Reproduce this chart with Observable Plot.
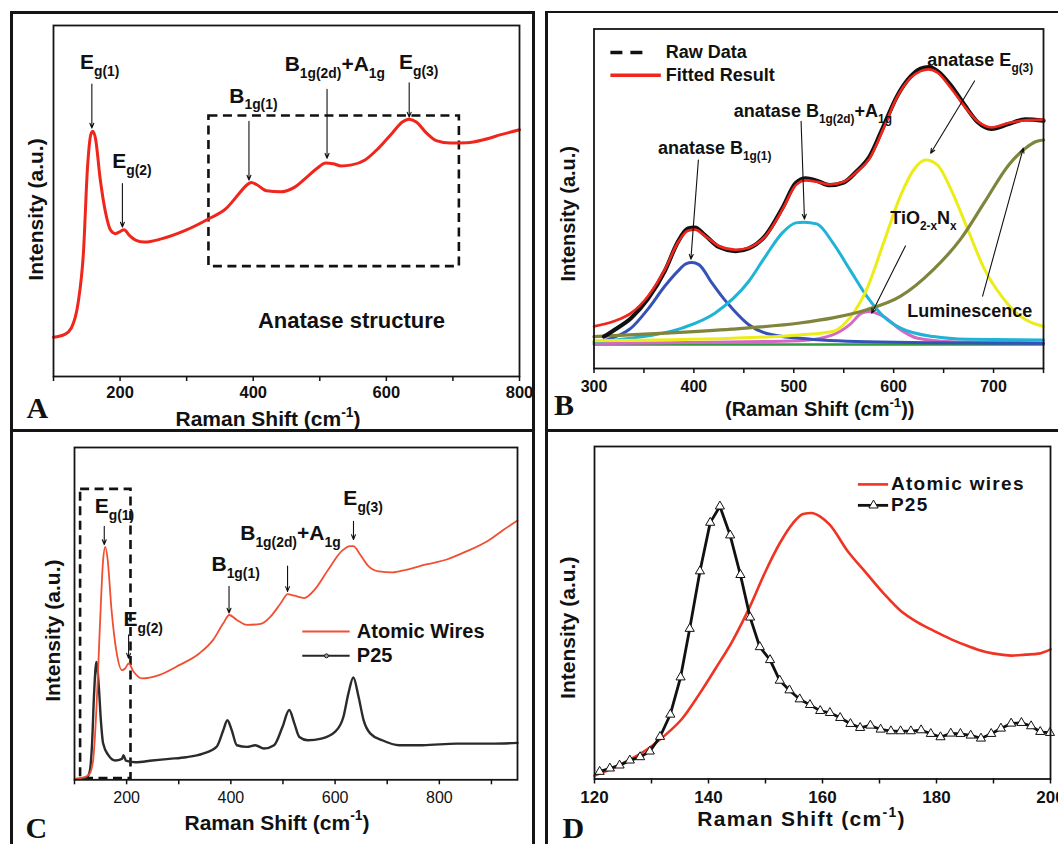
<!DOCTYPE html>
<html><head><meta charset="utf-8">
<script src="https://cdn.jsdelivr.net/npm/d3@7"></script>
<script src="https://cdn.jsdelivr.net/npm/@observablehq/plot@0.6"></script>
<style>
body{margin:0;background:#fff;}
#fig{position:relative;width:1058px;height:844px;overflow:hidden;background:#fff;}
.ln{position:absolute;background:#151515;z-index:5;}
.panel{position:absolute;}
.panel svg{overflow:visible;}
</style></head><body><div id="fig"></div>
<script>
// ---------- Panel A : Raman spectrum of atomic wires ----------
const aX = [100,117,127,137,145,151,156,159,163,170,178,186,193,200,206,214,224,237,262,298,334,359,377,390,397,405,420,441,461,481,497,509,520,532,548,568,588,609,624,634,645,660,675,696,721,747,772,800];
const aY = [11.2,12.0,13.9,21.0,35.4,59.3,68.9,69.9,67.9,56.5,46.9,41.6,40.7,41.3,41.8,40.2,38.8,38.3,39.2,41.6,45.0,47.8,51.7,54.5,55.3,54.7,52.9,52.6,53.8,56.9,59.5,60.8,60.6,60.0,60.3,61.7,65.0,69.4,72.5,73.3,72.5,69.4,67.2,66.5,66.6,67.5,68.9,70.3];
const aMajor = [200,400,600,800];
const aMinor = [100,300,500,700];
const aLabels = [
  {x:139.8, y:87.6, t:"E_{g(1)}"},
  {x:188.2, y:59.3, t:"E_{g(2)}"},
  {x:364,   y:78.0, t:"B_{1g(1)}"},
  {x:447.2, y:87.1, t:"B_{1g(2d)}+A_{1g}"},
  {x:619,   y:87.6, t:"E_{g(3)}"}
];
const aArrows = [
  {x1:157.6,y1:83.3,x2:157.6,y2:70.8},
  {x1:203.5,y1:55.0,x2:203.5,y2:42.6},
  {x1:393.6,y1:72.7,x2:393.6,y2:56.0},
  {x1:510.9,y1:81.8,x2:510.9,y2:62.2},
  {x1:634.3,y1:83.7,x2:634.3,y2:73.9}
];
const aBox = [{x1:333.5,x2:709.7,y1:31.3,y2:74.2}];
const aNote = [{x:547.6,y:13.9,t:"Anatase structure"}];

// ---------- Panel B : peak fitting ----------
const bFitX = [300,320,337,354,371,384,394,401,411,425,442,455,472,489,502,512,523,536,550,563,576,590,603,617,627,635,644,657,671,684,698,715,732,750];
const bFitY = [12.4,13.9,16.3,21.3,29.2,37.1,40.6,40.9,39.1,36.1,35.0,35.6,39.1,47.0,54.0,55.4,55.0,54.2,55.0,57.9,61.9,70.8,79.7,85.6,87.6,88.1,87.1,82.7,77.2,72.8,71.0,72.3,73.1,73.3];
const bRawX = [310,320,337,354,371,384,394,401,411,425,442,455,472,489,502,512,523,536,550,563,576,590,603,617,627,635,644,657,671,684,698,715,732,750];
const bRawY = [9.4,11.3,14.8,20.5,28.8,37.3,41.2,41.5,39.3,35.8,34.6,35.4,39.3,47.5,54.6,56.0,55.3,54.0,54.8,58.1,62.5,71.5,80.0,86.0,88.3,88.8,87.6,83.5,77.6,72.6,70.6,72.0,73.4,73.0];
const bBlueX = [310,325,337,354,371,384,392,398,405,418,430,438,455,472,506,573,750];
const bBlueY = [8.2,9.8,11.9,17.5,24.3,28.7,30.8,31.2,30.6,25.2,20.5,17.8,12.9,10.4,8.9,7.9,7.4];
const bCyanX = [300,337,388,421,455,472,489,502,510,523,539,556,573,590,607,640,674,750];
const bCyanY = [7.9,8.9,11.9,16.3,25.7,33.2,40.1,42.9,43.1,42.6,37.1,29.2,21.3,15.3,11.9,9.4,8.6,8.4];
const bYellowX = [300,438,506,539,556,573,590,607,621,632,644,657,674,691,708,725,750];
const bYellowY = [8.2,8.9,9.9,10.9,14.9,23.3,37.1,51.0,58.9,61.4,59.9,53.0,41.1,29.2,21.3,15.8,12.4];
const bPinkX = [300,506,539,556,568,575,590,607,624,657,750];
const bPinkY = [7.4,8.2,9.9,12.9,16.3,16.8,15.3,11.4,8.9,7.9,7.6];
const bOliveX = [300,371,438,506,539,573,607,640,667,691,715,732,742,750];
const bOliveY = [9.4,10.4,11.6,13.4,14.9,17.3,21.3,29.2,38.1,49.0,59.9,64.9,66.8,67.3];
const bGreenX = [300,750];
const bGreenY = [7.1,7.1];
const bMajor = [300,400,500,600,700];
const bMinor = [350,450,550,650,750];
const bLabels = [
  {x:364,   y:63.1, t:"anatase B_{1g(1)}"},
  {x:440,   y:74.0, t:"anatase B_{1g(2d)}+A_{1g}"},
  {x:633.7, y:89.1, t:"anatase E_{g(3)}"},
  {x:596.6, y:42.6, t:"TiO_{2-x}N_{x}"},
  {x:613.5, y:15.3, t:"Luminescence"}
];
const bArrows = [
  {x1:404.5,y1:61.4,x2:397.0,y2:32.2},
  {x1:507.3,y1:72.8,x2:510.7,y2:44.0},
  {x1:681.0,y1:84.7,x2:637.0,y2:63.4},
  {x1:611.8,y1:36.1,x2:578.0,y2:16.3},
  {x1:689.0,y1:21.3,x2:729.8,y2:64.9}
];
const bLegend = [
  {x1:316.9,x2:355.6,y:93.1,tx:371.8,t:"Raw Data"},
  {x1:316.9,x2:367.4,y:86.4,tx:371.8,t:"Fitted Result"}
];

// ---------- Panel C : atomic wires vs P25 ----------
const cWireX = [101,119.5,129,135.7,142,148.7,155,159,163.6,171,181,191,197,204,213.5,229.8,262,301,340,366,385.5,397,411.5,431,457,476,496,509,522,541,560.7,586.7,612.6,629,635,648,664.5,684,710,736,775,814,853,892,924,950];
const cWireY = [0.3,0.8,1.8,5.8,21,46.1,66.3,70.1,66.3,51.2,38.1,33,33.5,35,32.5,30.5,31.5,34.5,38.1,42.1,47.1,49.6,48.1,46.6,46.9,49.1,53.2,55.9,55.4,54.7,57.2,63.2,68.8,70.3,70.3,67.8,64.2,62.7,62.4,63.2,64.8,66.3,68.8,71.8,75.3,78];
const cP25X = [101,122.7,129,133.7,137.6,142,146.7,150.6,155,165,178,191,194,198.6,216.8,249,281.7,314,346.6,372.5,385.5,393.3,401.7,411.5,431,447,463.4,482.9,499,512,522,531.5,547.7,573.7,599.7,615.9,625.6,635,645,654.8,667.8,690.5,723,768,833,898,950];
const cP25Y = [0.2,0.6,2.3,10.9,26,35.5,28,17.9,10.9,7.4,5.8,6.3,7.4,5.8,5.3,5.8,6.3,6.8,7.9,9.9,14.9,17.9,14.9,10.4,9.9,10.4,9.4,10.4,15.9,21,16.9,12.9,11.9,12.4,14.4,18.9,26,30.8,25,17.9,13.9,11.9,10.4,10.4,10.9,10.9,11.1];
const cMajor = [200,400,600,800];
const cMinor = [100,300,500,700,900];
const cLabels = [
  {x:138.9, y:80.2, t:"E_{g(1)}"},
  {x:194.1, y:46.3, t:"E_{g(2)}"},
  {x:362.8, y:62.7, t:"B_{1g(1)}"},
  {x:418.0, y:72.1, t:"B_{1g(2d)}+A_{1g}"},
  {x:615.9, y:82.7, t:"E_{g(3)}"}
];
const cArrows = [
  {x1:157.1,y1:76.3,x2:157.1,y2:70.8},
  {x1:203.8,y1:43.6,x2:203.8,y2:36.6},
  {x1:396.5,y1:58.2,x2:396.5,y2:50.2},
  {x1:508.8,y1:64.3,x2:508.8,y2:56.7},
  {x1:635.3,y1:77.8,x2:635.3,y2:72.3}
];
const cBox = [{x1:111.7,x2:208.4,y1:0.4,y2:87.4}];
const cLegend = [
  {x1:538,x2:628.9,y:44.6,tx:641.8,t:"Atomic Wires"},
  {x1:538,x2:628.9,y:37.3,tx:641.8,t:"P25"}
];

// ---------- Panel D : zoom on Eg(1) ----------
const dWireX = [120,123.5,126.5,129.4,132.4,135.4,138.3,141.3,144.2,147.2,150.1,152.5,154.8,156.6,158.1,159.6,161.3,164.3,167.8,170.8,173.7,176.7,179.6,182.6,185.5,188.5,191.4,193.2,195.6,197.9,200];
const dWireY = [1,3.5,6.1,9.1,13.2,18.2,25.3,33.4,41.5,51.6,62.8,70.9,76.9,79.7,80,78.9,76.4,68.8,61.7,55.7,50.6,47.1,44.5,42,40,38.3,37.4,37.1,37.4,37.7,39];
const dP25X = [120.9,122.7,124.4,126.2,128.0,129.7,131.5,133.3,135.1,136.7,138.5,140.3,142.0,143.8,145.6,147.3,149.0,150.8,152.5,154.2,156.0,157.8,159.6,161.3,163.1,164.9,166.6,168.4,170.2,172.0,173.7,175.5,177.3,179.0,180.7,182.5,184.2,186.0,187.8,189.6,191.3,193.1,194.9,196.6,198.2,199.9];
const dP25Y = [2.2,3.2,4.1,5.6,6.6,8.3,12.7,19.4,30.6,45.2,62.5,77.1,82.0,73.3,61.4,48.6,39.7,35.8,29.6,26.7,24.0,22.3,20.5,19.9,18.4,16.6,15.4,16.1,14.9,14.4,14.4,14.4,14.7,13.6,12.6,13.7,13.6,13.1,12.2,13.6,15.2,16.7,16.9,15.9,14.2,13.9];
const dMajor = [120,140,160,180,200];
const dMinor = [130,150,170,190];
const dLegend = [
  {x1:166.3,x2:171.6,y:88.6,tx:172.0,t:"Atomic wires"},
  {x1:166.3,x2:171.6,y:82.3,tx:172.0,t:"P25"}
];

const xTitle = "Raman Shift (cm^{-1})";
const xTitleB = "(Raman Shift (cm^{-1}))";
const yTitle = "Intensity (a.u.)";

// ---------- helpers ----------
const SANS = "Liberation Sans, Arial, Helvetica, sans-serif";
const SERIF = "Liberation Serif, Times New Roman, serif";
const fig = document.getElementById("fig");
const pts = (X, Y) => X.map((x, i) => ({x, y: Y[i]}));

function rich(svg){
  d3.select(svg).selectAll("text").each(function(){
    const s = this.textContent;
    if (!/[_^]\{/.test(s)) return;
    const segs = []; const re = /([_^])\{([^}]*)\}|([^_^]+)/g; let m;
    while ((m = re.exec(s))) { if (m[3]) segs.push({t:m[3], k:0}); else segs.push({t:m[2], k: m[1] === "_" ? 1 : -1}); }
    this.textContent = "";
    let cur = 0;
    for (const g of segs) {
      const sc = g.k ? 0.66 : 1;
      const target = g.k === 1 ? 0.32 : g.k === -1 ? -0.44 : 0;
      const ts = d3.select(this).append("tspan").text(g.t);
      if (g.k) ts.attr("font-size", "66%");
      const dyb = target - cur;
      if (Math.abs(dyb) > 1e-6) ts.attr("dy", (dyb / sc).toFixed(3) + "em");
      cur = target;
    }
  });
}

function axes(major, minor, fs, fw, pad){
  return [
    Plot.axisX({ticks: minor, tickFormat: () => "", tickSize: 5, strokeWidth: 1.5, label: null}),
    Plot.axisX({ticks: major, tickSize: 5, tickPadding: pad, strokeWidth: 1.5, label: null, fontSize: fs, fontWeight: fw, fontFamily: SANS})
  ];
}
function titles(xt, xdx, xdy, xfs, ydx, ydy, yfs, letter, ldx, ldy){
  return [
    Plot.text([xt], {text: d => d, frameAnchor: "bottom", textAnchor: "middle", lineAnchor: "bottom", dx: xdx, dy: xdy, fontSize: xfs, fontWeight: "bold", fontFamily: SANS}),
    Plot.text([yTitle], {text: d => d, frameAnchor: "left", textAnchor: "middle", lineAnchor: "middle", rotate: -90, dx: ydx, dy: ydy, fontSize: yfs, fontWeight: "bold", fontFamily: SANS}),
    Plot.text([letter], {text: d => d, frameAnchor: "bottom-left", textAnchor: "start", lineAnchor: "bottom", dx: ldx, dy: ldy, fontSize: 30, fontWeight: "bold", fontFamily: SERIF})
  ];
}
function panel(cfg){
  const p = Plot.plot({
    width: cfg.width, height: cfg.height,
    marginTop: cfg.m[0], marginRight: cfg.m[1], marginBottom: cfg.m[2], marginLeft: cfg.m[3],
    x: {domain: cfg.xdom}, y: {domain: [0, 100], axis: null},
    style: {fontFamily: SANS, fontSize: "16px", color: "#111", background: "transparent", overflow: "visible"},
    marks: cfg.marks
  });
  if (cfg.post) cfg.post(p);
  rich(p);
  const d = document.createElement("div");
  d.className = "panel"; d.style.left = cfg.left + "px"; d.style.top = cfg.top + "px";
  d.appendChild(p); fig.appendChild(d);
}
const curve = (X, Y, o) => Plot.line(pts(X, Y), {x: "x", y: "y", curve: "monotone-x", ...o});
const arrows = (A, w) => Plot.arrow(A, {x1: "x1", y1: "y1", x2: "x2", y2: "y2", stroke: "#111", strokeWidth: w, headLength: 7, headAngle: 45});
const labels = (L, fs) => Plot.text(L, {x: "x", y: "y", text: "t", textAnchor: "start", lineAnchor: "bottom", fontSize: fs, fontWeight: "bold", fontFamily: SANS, fill: "#111"});

// ---------- Panel A ----------
panel({left: 12, top: 13, width: 520, height: 415, m: [12, 13, 52, 41], xdom: [100, 800], marks: [
  Plot.rect(aBox, {x1: "x1", x2: "x2", y1: "y1", y2: "y2", fill: "none", stroke: "#111", strokeWidth: 2.6, strokeDasharray: "9 5.5"}),
  curve(aX, aY, {stroke: "#f0261c", strokeWidth: 3}),
  arrows(aArrows, 1.1),
  labels(aLabels, 21),
  Plot.text(aNote, {x: "x", y: "y", text: "t", textAnchor: "middle", lineAnchor: "bottom", fontSize: 22, fontWeight: "bold", fontFamily: SANS}),
  Plot.frame({stroke: "#151515", strokeWidth: 1.8}),
  ...axes(aMajor, aMinor, 16.5, "bold", 5),
  ...titles(xTitle, -18.5, 49.5, 21, -17.5, 8.5, 21, "A", -27, 41)
]});

// ---------- Panel B ----------
panel({left: 548, top: 13, width: 510, height: 415, m: [15.5, 15, 60, 45.5], xdom: [300, 750], marks: [
  curve(bGreenX, bGreenY, {stroke: "#2f9a3a", strokeWidth: 2.5}),
  curve(bPinkX, bPinkY, {stroke: "#d468c6", strokeWidth: 3}),
  curve(bBlueX, bBlueY, {stroke: "#3552b8", strokeWidth: 3}),
  curve(bCyanX, bCyanY, {stroke: "#1fb3d5", strokeWidth: 3}),
  curve(bYellowX, bYellowY, {stroke: "#ecec18", strokeWidth: 3}),
  curve(bOliveX, bOliveY, {stroke: "#7f853c", strokeWidth: 3.2}),
  curve(bRawX, bRawY, {stroke: "#111", strokeWidth: 4.2}),
  curve(bFitX, bFitY, {stroke: "#f0261c", strokeWidth: 2.6}),
  arrows(bArrows, 1.1),
  labels(bLabels, 18),
  Plot.ruleY(bLegend.slice(0, 1), {y: "y", x1: "x1", x2: "x2", stroke: "#111", strokeWidth: 3.5, strokeDasharray: "12 8"}),
  Plot.ruleY(bLegend.slice(1), {y: "y", x1: "x1", x2: "x2", stroke: "#f0261c", strokeWidth: 3.5}),
  Plot.text(bLegend, {x: "tx", y: "y", text: "t", textAnchor: "start", lineAnchor: "middle", fontSize: 18, fontWeight: "bold", fontFamily: SANS}),
  Plot.frame({stroke: "#151515", strokeWidth: 1.8}),
  ...axes(bMajor, bMinor, 16, "bold", 7),
  ...titles(xTitleB, 1, 47.5, 20, -25.5, 15, 20, "B", -40, 46)
]});

// ---------- Panel C ----------
panel({left: 12, top: 432, width: 520, height: 412, m: [15, 15, 64.7, 62], xdom: [100, 950], marks: [
  Plot.rect(cBox, {x1: "x1", x2: "x2", y1: "y1", y2: "y2", fill: "none", stroke: "#111", strokeWidth: 2.6, strokeDasharray: "9 5.5"}),
  curve(cP25X, cP25Y, {stroke: "#2b2b2b", strokeWidth: 2.4}),
  curve(cWireX, cWireY, {stroke: "#f24f32", strokeWidth: 1.8}),
  arrows(cArrows, 1.1),
  labels(cLabels, 21),
  Plot.ruleY(cLegend.slice(0, 1), {y: "y", x1: "x1", x2: "x2", stroke: "#f24f32", strokeWidth: 2}),
  Plot.ruleY(cLegend.slice(1), {y: "y", x1: "x1", x2: "x2", stroke: "#262626", strokeWidth: 2}),
  Plot.dot(cLegend.slice(1), {x: d => (d.x1 + d.x2) / 2, y: "y", r: 2, fill: "#999", stroke: "#222", strokeWidth: 1}),
  Plot.text(cLegend, {x: "tx", y: "y", text: "t", textAnchor: "start", lineAnchor: "middle", fontSize: 20, fontWeight: "bold", fontFamily: SANS}),
  Plot.frame({stroke: "#151515", strokeWidth: 1.8}),
  ...axes(cMajor, cMinor, 16, "normal", 7),
  ...titles(xTitle, -19, 49.7, 21, -21, 17, 21, "C", -49, 58.5)
]});

// ---------- Panel D ----------
panel({left: 548, top: 432, width: 510, height: 412, m: [14, 8, 65.5, 46], xdom: [120, 200], marks: [
  curve(dWireX, dWireY, {stroke: "#f03322", strokeWidth: 2.6}),
  Plot.line(pts(dP25X, dP25Y), {x: "x", y: "y", stroke: "#111", strokeWidth: 2.8}),
  Plot.dot(pts(dP25X, dP25Y), {x: "x", y: "y", symbol: "triangle", r: 3.4, fill: "white", stroke: "#111", strokeWidth: 1}),
  Plot.ruleY(dLegend.slice(0, 1), {y: "y", x1: "x1", x2: "x2", stroke: "#f03322", strokeWidth: 2.6}),
  Plot.ruleY(dLegend.slice(1), {y: "y", x1: "x1", x2: "x2", stroke: "#111", strokeWidth: 2.8}),
  Plot.dot(dLegend.slice(1), {x: d => (d.x1 + d.x2) / 2, y: "y", symbol: "triangle", r: 3.4, fill: "white", stroke: "#111", strokeWidth: 1}),
  Plot.text(dLegend, {x: "tx", y: "y", text: "t", textAnchor: "start", lineAnchor: "middle", fontSize: 19, fontWeight: "bold", fontFamily: SANS}),
  Plot.frame({stroke: "#151515", strokeWidth: 1.8}),
  ...axes(dMajor, dMinor, 17, "bold", 6.5),
  ...titles(xTitle, -21, 47, 21, -26, 15, 21, "D", -32, 59)
], post: svg => {
  d3.select(svg).selectAll("text").filter(function(){
    const s = this.textContent; return s === "Atomic wires" || s === "P25" || s.startsWith("Raman");
  }).style("letter-spacing", "1.3px");
}});

// ---------- panel borders ----------
function bar(l, t, w, h){ const d = document.createElement("div"); d.className = "ln"; Object.assign(d.style, {left: l + "px", top: t + "px", width: w + "px", height: h + "px"}); fig.appendChild(d); }
bar(10, 11, 2.5, 833); bar(10, 11, 524.5, 2.5); bar(532, 11, 2.5, 833); bar(10, 428.5, 524.5, 3);
bar(545, 10.5, 2.5, 834); bar(545, 10.5, 513, 2.5); bar(545, 428.5, 513, 3);
</script></body></html>
